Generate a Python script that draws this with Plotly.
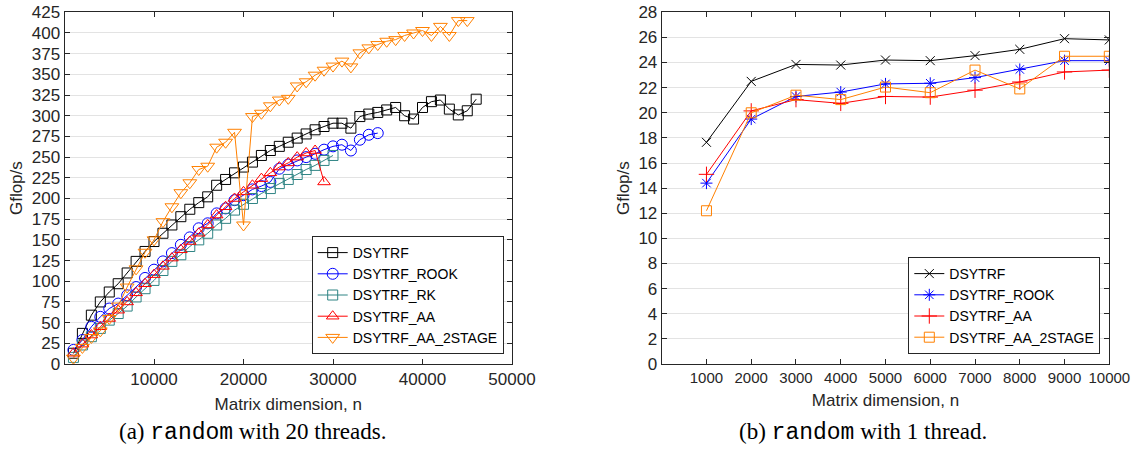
import plotly.graph_objects as go

# ---------------- data: (a) random with 20 threads ----------------
n_a = list(range(1000, 47000, 1000))
dsytrf_a = [13, 37, 59, 75, 87, 97, 110, 124, 136, 148, 158, 168, 178, 187, 195, 202, 216, 223, 231, 238,
            244, 252, 258, 263, 268, 273, 278, 283, 287, 291, 291, 285, 299, 302, 304, 307, 310, 300, 296, 310,
            317, 319, 308, 301, 306, 320]
rook_a = [17, 29, 45, 57, 67, 73, 83, 93, 104, 114, 124, 134, 144, 153, 164, 170, 182, 188, 198, 204,
          211, 215, 220, 236, 241, 246, 250, 254, 259, 263, 265, 258, 271, 277, 279]
rk_a = [8, 23, 33, 43, 53, 61, 70, 81, 91, 101, 113, 124, 132, 142, 150, 158, 168, 176, 186, 193,
        200, 206, 212, 218, 223, 229, 235, 240, 246, 252]
aa_a = [13, 24, 35, 45, 55, 65, 75, 86, 97, 108, 118, 128, 138, 148, 158, 168, 180, 190, 200, 208,
        216, 224, 231, 238, 243, 250, 255, 258, 220]
aa2_a = [7, 20, 32, 40, 55, 70, 93, 115, 135, 150, 172, 190, 207, 219, 235, 239, 262, 268, 280, 168,
         299, 303, 312, 319, 321, 336, 341, 349, 355, 360, 366, 359, 376, 382, 386, 390, 392, 397, 400, 403,
         397, 408, 397, 415, 415]

# ---------------- data: (b) random with 1 thread ----------------
n_b = [1000, 2000, 3000, 4000, 5000, 6000, 7000, 8000, 9000, 10000]
dsytrf_b = [17.65, 22.5, 23.85, 23.8, 24.2, 24.15, 24.55, 25.05, 25.9, 25.8]
rook_b = [14.4, 19.5, 21.3, 21.65, 22.3, 22.35, 22.8, 23.45, 24.15, 24.15]
aa_b = [15.1, 20.15, 21.05, 20.75, 21.3, 21.25, 21.8, 22.45, 23.25, 23.4]
aa2_b = [12.2, 20.0, 21.4, 21.05, 22.05, 21.6, 23.4, 21.9, 24.5, 24.5]

yticks_a = list(range(0, 426, 25))
xticks_a = [10000, 20000, 30000, 40000, 50000]
yticks_b = list(range(0, 29, 2))
xticks_b = n_b

W, H = 1134, 458
FONT = "Liberation Sans, Arial, Helvetica, sans-serif"
AX = "#262626"
BLACK, BLUE, TEAL, RED, ORANGE = "#000000", "#0000FF", "#2F8484", "#FF0000", "#FF8000"

fig = go.Figure()


def add(x, y, name, color, symbol, size, xa, ya, legend, lw=1):
    fig.add_trace(go.Scatter(
        x=x, y=y, name=name, mode="lines+markers", xaxis=xa, yaxis=ya, legend=legend,
        line=dict(color=color, width=lw),
        marker=dict(symbol=symbol, size=size, color=color, line=dict(color=color, width=1)),
    ))


add(n_a, dsytrf_a, "DSYTRF", BLACK, "square-open", 10, "x", "y", "legend")
add(n_a[:len(rook_a)], rook_a, "DSYTRF_ROOK", BLUE, "circle-open", 11, "x", "y", "legend")
add(n_a[:len(rk_a)], rk_a, "DSYTRF_RK", TEAL, "square-open", 10, "x", "y", "legend")
add(n_a[:len(aa_a)], aa_a, "DSYTRF_AA", RED, "triangle-up-open", 11, "x", "y", "legend")
add(n_a[:len(aa2_a)], aa2_a, "DSYTRF_AA_2STAGE", ORANGE, "triangle-down-open", 12, "x", "y", "legend")

add(n_b, dsytrf_b, "DSYTRF", BLACK, "x-thin-open", 9, "x2", "y2", "legend2")
add(n_b, rook_b, "DSYTRF_ROOK", BLUE, "asterisk-open", 10, "x2", "y2", "legend2")
add(n_b, aa_b, "DSYTRF_AA", RED, "cross-thin-open", 11, "x2", "y2", "legend2")
add(n_b, aa2_b, "DSYTRF_AA_2STAGE", ORANGE, "square-open", 10, "x2", "y2", "legend2")

px = lambda v: v / W
py = lambda v: 1 - v / H


def axis(size):
    return dict(
        showline=True, linecolor=AX, linewidth=1, mirror="ticks",
        ticks="inside", ticklen=5, tickcolor=AX, tickwidth=1,
        tickfont=dict(family=FONT, size=size, color=AX),
        zeroline=False, automargin=False, tickangle=0,
    )


TITLE_FONT = dict(family=FONT, size=17, color=AX)

fig.update_layout(
    width=W, height=H,
    margin=dict(l=0, r=0, t=0, b=0),
    paper_bgcolor="white", plot_bgcolor="white",
    font=dict(family=FONT, color=AX),
    xaxis=dict(domain=[px(64.5), px(512)], range=[0, 50000], tickvals=xticks_a,
               ticktext=[str(v) for v in xticks_a],
               showgrid=False, anchor="y",
               title=dict(text="Matrix dimension, n", font=TITLE_FONT, standoff=9),
               **axis(17)),
    yaxis=dict(domain=[py(364), py(12.3)], range=[0, 425], tickvals=yticks_a,
               ticktext=[str(v) for v in yticks_a],
               showgrid=True, gridcolor="#E3E3E3", gridwidth=1, anchor="x",
               title=dict(text="Gflop/s", font=TITLE_FONT, standoff=4),
               **axis(17)),
    xaxis2=dict(domain=[px(661.7), px(1109.3)], range=[0, 10000], tickvals=xticks_b,
                ticktext=[str(v) for v in xticks_b],
                showgrid=False, anchor="y2",
                title=dict(text="Matrix dimension, n", font=TITLE_FONT, standoff=9),
                **axis(15)),
    yaxis2=dict(domain=[py(364), py(12.3)], range=[0, 28], tickvals=yticks_b,
                ticktext=[str(v) for v in yticks_b],
                showgrid=True, gridcolor="#E3E3E3", gridwidth=1, anchor="x2",
                title=dict(text="Gflop/s", font=TITLE_FONT, standoff=4),
                **axis(17)),
    legend=dict(x=px(311.7), y=py(354), xanchor="left", yanchor="bottom",
                bgcolor="white", bordercolor=AX, borderwidth=1,
                font=dict(family=FONT, size=14, color="#000000"),
                tracegroupgap=0, itemwidth=30),
    legend2=dict(x=px(908.3), y=py(354), xanchor="left", yanchor="bottom",
                 bgcolor="white", bordercolor=AX, borderwidth=1,
                 font=dict(family=FONT, size=14, color="#000000"),
                 tracegroupgap=0, itemwidth=30),
    showlegend=True,
)

SERIF = "Liberation Serif, DejaVu Serif, serif"
MONO = "Liberation Mono, DejaVu Sans Mono, monospace"
fig.add_annotation(x=px(252), y=py(432), xref="paper", yref="paper", showarrow=False,
                   xanchor="center", yanchor="middle",
                   text="(a) <span style='font-family:%s'>random</span> with 20 threads." % MONO,
                   font=dict(family=SERIF, size=23, color="#000000"))
fig.add_annotation(x=px(863), y=py(432), xref="paper", yref="paper", showarrow=False,
                   xanchor="center", yanchor="middle",
                   text="(b) <span style='font-family:%s'>random</span> with 1 thread." % MONO,
                   font=dict(family=SERIF, size=23, color="#000000"))

fig.write_html("out.html", config={"displayModeBar": False},
               post_script="document.body.style.margin='0';document.body.style.overflow='hidden';")
